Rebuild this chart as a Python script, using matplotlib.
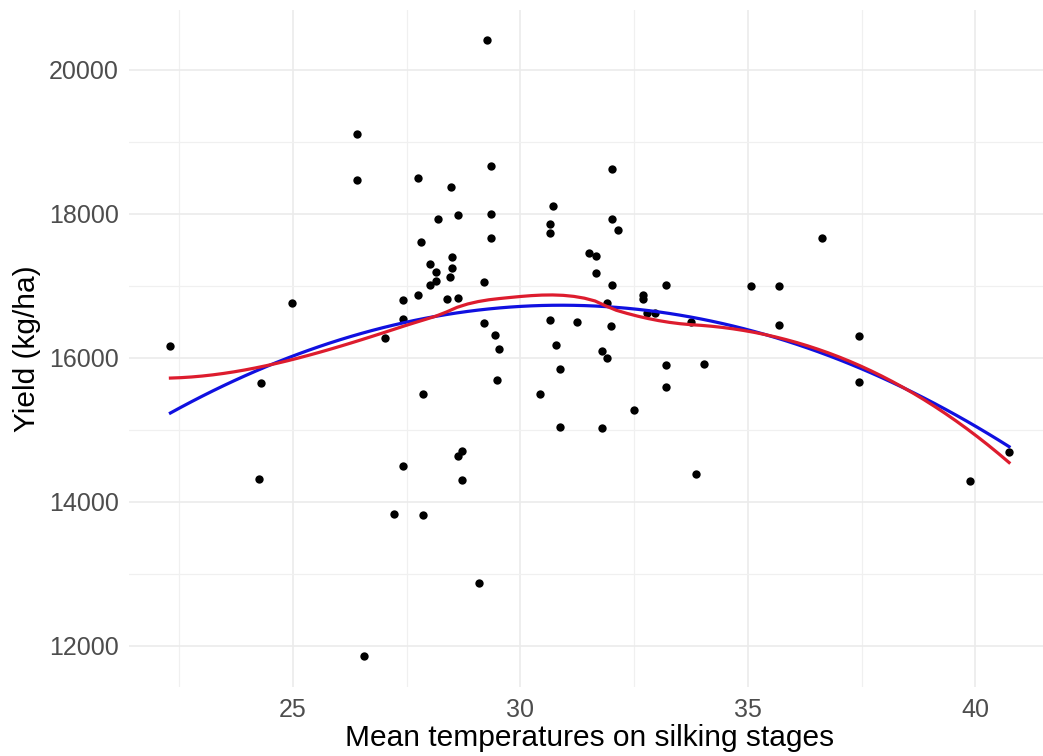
import numpy as np
import matplotlib
matplotlib.use("Agg")
import matplotlib.pyplot as plt
from matplotlib.ticker import MultipleLocator

# Data
temperature = [22.31, 24.29, 24.26, 24.98, 26.40, 26.40, 26.57, 27.02, 27.23, 27.42,
               27.42, 27.43, 27.75, 27.75, 27.81, 27.86, 27.86, 28.02, 28.02, 28.14,
               28.14, 28.20, 28.39, 28.47, 28.50, 28.50, 28.46, 28.63, 28.63, 28.63,
               28.72, 28.72, 29.09, 29.20, 29.21, 29.27, 29.35, 29.35, 29.35, 29.45,
               29.54, 29.48, 30.43, 30.65, 30.65, 30.65, 30.71, 30.79, 30.88, 30.88,
               31.25, 31.51, 31.67, 31.66, 31.79, 31.79, 31.91, 31.91, 31.99, 32.01,
               32.01, 32.02, 32.15, 32.49, 32.69, 32.69, 32.78, 32.95, 33.21, 33.21,
               33.21, 33.76, 33.86, 34.04, 35.07, 35.69, 35.69, 36.62, 37.44, 37.44,
               39.88, 40.74]
yield_kg = [16167, 15647, 14314, 16754, 19100, 18470, 11856, 16278, 13828, 16805,
            16532, 14495, 18495, 16865, 17606, 15495, 13819, 17305, 17004, 17190,
            17060, 17930, 16819, 18365, 17398, 17245, 17120, 17986, 16830, 14629,
            14703, 14296, 12870, 17050, 16486, 20407, 18657, 18000, 17661, 16310,
            16115, 15690, 15500, 17861, 17726, 16528, 18111, 16171, 15840, 15042,
            16500, 17449, 17412, 17171, 16100, 15028, 16764, 16000, 16435, 18615,
            17921, 17004, 17768, 15278, 16865, 16819, 16615, 16615, 17004, 15897,
            15600, 16494, 14389, 15914, 17000, 17000, 16458, 17661, 16305, 15667,
            14292, 14685]

x = np.array(temperature)
y = np.array(yield_kg, dtype=float)


def local_fit(x, y, x0, q):
    # weighted local quadratic, returns value and slope at x0
    d = np.abs(x - x0)
    h = np.sort(d)[q - 1]
    w = np.clip(1 - (d / h) ** 3, 0, None) ** 3
    X = np.column_stack([np.ones(len(x)), x - x0, (x - x0) ** 2])
    sw = np.sqrt(w)
    beta = np.linalg.lstsq(X * sw[:, None], y * sw, rcond=None)[0]
    return beta[0], beta[1]


def loess(x, y, xs, span=0.75, cell=0.2):
    # rough copy of R loess: fits at kd-tree vertices, cubic Hermite between them
    n = len(x)
    q = int(np.floor(n * span))
    fc = int(np.floor(n * span * cell))
    xsrt = np.sort(x)
    mu = 0.005 * (xsrt[-1] - xsrt[0])
    verts = {xsrt[0] - mu, xsrt[-1] + mu}
    stack = [(0, n - 1)]
    while stack:
        l, u = stack.pop()
        if u - l + 1 <= fc:
            continue
        m = (l + u) // 2
        split = (xsrt[m] + xsrt[m + 1]) / 2
        verts.add(split)
        stack.append((l, m))
        stack.append((m + 1, u))
    verts = np.array(sorted(verts))
    vals = np.array([local_fit(x, y, v, q) for v in verts])
    out = []
    for x0 in xs:
        i = min(np.searchsorted(verts, x0) - 1, len(verts) - 2)
        i = max(i, 0)
        a, b = verts[i], verts[i + 1]
        hh = b - a
        t = (x0 - a) / hh
        h00 = 2 * t**3 - 3 * t**2 + 1
        h10 = t**3 - 2 * t**2 + t
        h01 = -2 * t**3 + 3 * t**2
        h11 = t**3 - t**2
        out.append(h00 * vals[i, 0] + h10 * hh * vals[i, 1]
                   + h01 * vals[i + 1, 0] + h11 * hh * vals[i + 1, 1])
    return np.array(out)


xs = np.linspace(x.min(), x.max(), 80)
quad = np.polyval(np.polyfit(x, y, 2), xs)
smooth = loess(x, y, xs)

plt.rcParams['font.family'] = ['Liberation Sans', 'DejaVu Sans']

fig = plt.figure(figsize=(10.43, 7.56), dpi=100)
ax = fig.add_axes([128.5 / 1043, 1 - 687 / 756, (1051 - 128.5) / 1043, (687 - 9.5) / 756])

ax.scatter(x, y, s=36, color='black', zorder=3, linewidths=0)
ax.plot(xs, quad, color='#1010E0', lw=2.3, zorder=4)
ax.plot(xs, smooth, color='#DD1C2E', lw=2.3, zorder=5)

ax.margins(0.05)
ax.xaxis.set_major_locator(MultipleLocator(5))
ax.xaxis.set_minor_locator(MultipleLocator(2.5))
ax.yaxis.set_major_locator(MultipleLocator(2000))
ax.yaxis.set_minor_locator(MultipleLocator(1000))
ax.grid(which='major', color='#EBEBEB', lw=1.2)
ax.grid(which='minor', color='#F0F0F0', lw=0.9)
ax.set_axisbelow(True)
for s in ax.spines.values():
    s.set_visible(False)
ax.tick_params(which='both', length=0)
ax.tick_params(axis='x', labelsize=18, labelcolor='#4D4D4D', pad=8)
ax.tick_params(axis='y', labelsize=18, labelcolor='#4D4D4D', pad=7)

ax.set_xlabel("Mean temperatures on silking stages", fontsize=21.5, va='center')
ax.xaxis.set_label_coords(0.5, -0.075)
ax.set_ylabel("Yield (kg/ha)", fontsize=21.5, va='center')
ax.yaxis.set_label_coords(-0.1095, 0.5)

fig.savefig("out.png", dpi=100)
